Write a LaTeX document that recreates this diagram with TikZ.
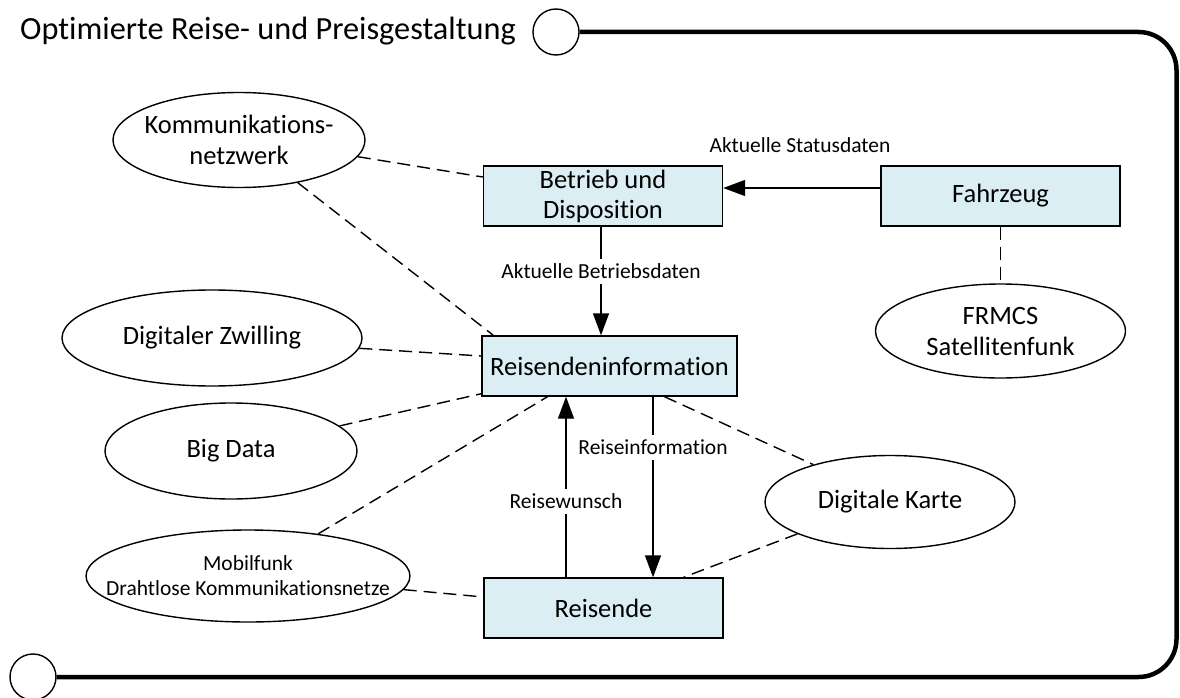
\documentclass[tikz,border=0pt]{standalone}
\usepackage{fontspec}
\setmainfont{Carlito}[Ligatures=NoCommon]
\usetikzlibrary{shapes.geometric,arrows.meta}
\definecolor{boxfill}{RGB}{219,238,244}
\begin{document}
\begin{tikzpicture}[x=1pt,y=-1pt,
  box/.style={draw, line width=1.4pt, fill=boxfill, minimum width=239pt,
    minimum height=60pt, inner sep=0pt, align=center,
    font=\fontsize{26.5}{30}\selectfont},
  ell/.style={draw, ellipse, line width=1.4pt, inner sep=0pt},
  etxt/.style={align=center, inner sep=0pt, font=\fontsize{26.5}{31}\selectfont},
  lbl/.style={inner sep=0pt, font=\fontsize{21.5}{25}\selectfont},
  onl/.style={lbl, fill=white, inner xsep=2pt, inner ysep=5pt},
  flow/.style={line width=1.4pt, -{Triangle[length=22pt,width=16pt]}},
  link/.style={line width=1.4pt, dash pattern=on 13pt off 7pt},
  frame/.style={line width=4.5pt},
  port/.style={draw, circle, line width=1.4pt, minimum size=46pt, inner sep=0pt}]
\useasboundingbox (0,0) rectangle (1180,698);

% title, ports and frame
\node[anchor=base west, inner sep=0pt, font=\fontsize{32.3}{38}\selectfont] (title)
  at (20,40) {Optimierte Reise- und Preisgestaltung};
\node[port] (pin) at (556,32) {};
\node[port] (pout) at (33,677) {};
\draw[frame, rounded corners=38pt] (pin.east) -- (1176.5,32) -- (1176.5,677) -- (pout.east);

% process boxes
\node[box] (be) at (603,196) {Betrieb und\\Disposition};
\node[box] (fz) at (1000.5,196) {Fahrzeug};
\node[box, minimum width=255pt] (ri) at (609.5,366) {Reisendeninformation};
\node[box] (re) at (603.5,608) {Reisende};

% technology ellipses
\node[ell, minimum width=252pt, minimum height=95pt] (kn) at (239,140) {};
\node[etxt] (knt) at (kn) {Kommunikations-\\netzwerk};
\node[ell, minimum width=300pt, minimum height=96pt] (dz) at (212,338) {};
\node[etxt] (dzt) at (dz) {Digitaler Zwilling};
\node[ell, minimum width=252pt, minimum height=96pt] (bd) at (231,451) {};
\node[etxt] (bdt) at (bd) {Big Data};
\node[ell, minimum width=324pt, minimum height=92pt] (mf) at (248,576) {};
\node[etxt, font=\fontsize{21.5}{25}\selectfont] (mft) at (mf)
  {Mobilfunk\\Drahtlose Kommunikationsnetze};
\node[ell, minimum width=250pt, minimum height=93pt] (dk) at (890,502) {};
\node[etxt] (dkt) at (dk) {Digitale Karte};
\node[ell, minimum width=250pt, minimum height=94pt] (fr) at (1000.5,331) {};
\node[etxt] (frt) at (fr) {FRMCS\\Satellitenfunk};

% dashed associations
\draw[link] (kn.-8) -- ([yshift=19pt]be.west);
\draw[link] (kn.-36) -- ([xshift=12pt]ri.north west);
\draw[link] (dz.-4) -- ([yshift=10pt]ri.west);
\draw[link] (bd.13) -- ([yshift=3pt]ri.south west);
\draw[link] (mf.31) -- ([xshift=-62pt]ri.south);
\draw[link] (mf.-5) -- ([yshift=11pt]re.west);
\draw[link] ([xshift=55pt]ri.south) -- (dk.154);
\draw[link] (dk.-161) -- ([xshift=80pt]re.north);
\draw[link] (fz.south) -- (fr.north);

% information flows
\draw[flow] ([yshift=8pt]fz.west) -- ([yshift=8pt]be.east);
\node[lbl] (lst) at (800,145) {Aktuelle Statusdaten};
\draw[flow] ([xshift=-2pt]be.south) -- node[onl, pos=0.41] (lbd) {Aktuelle Betriebsdaten}
  ([xshift=-2pt]be.south |- ri.north);
\draw[flow] ([xshift=-37.5pt]re.north) -- node[onl, pos=0.42] (lrw) {Reisewunsch}
  ([xshift=-37.5pt]re.north |- ri.south);
\draw[flow] ([xshift=49.5pt]re.north |- ri.south) -- node[onl, pos=0.28] (lri) {Reiseinformation}
  ([xshift=49.5pt]re.north);
\end{tikzpicture}
\end{document}
